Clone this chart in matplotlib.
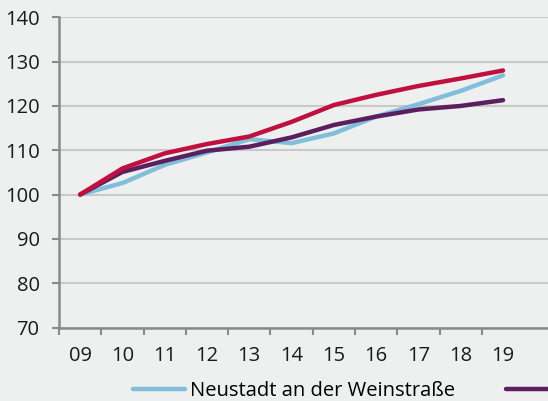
import numpy as np
import matplotlib.pyplot as plt

plt.rcParams['font.family'] = ['Open Sans', 'DejaVu Sans']

jahre = ['09', '10', '11', '12', '13', '14', '15', '16', '17', '18', '19']
neustadt = [100, 102.6, 106.7, 109.5, 112.5, 111.6, 113.8, 117.6, 120.4, 123.4, 126.9]
lila = [100, 105.1, 107.6, 109.9, 110.8, 112.9, 115.7, 117.6, 119.2, 120.0, 121.3]
rot = [100, 105.9, 109.3, 111.4, 113.1, 116.4, 120.2, 122.5, 124.5, 126.2, 128.0]
name_neustadt = 'Neustadt an der Weinstraße'

bg = '#eef0ef'
fs = 14.5
fig = plt.figure(figsize=(5.48, 4.01), dpi=100, facecolor=bg)
ax = fig.add_axes([59/548, 73.5/401, (548-59)/548, (327.5-17.3)/401])
ax.set_facecolor(bg)

x = np.arange(len(jahre))
h1, = ax.plot(x, neustadt, color='#80bedb', lw=3.2, solid_capstyle='round', zorder=3)
h2, = ax.plot(x, lila, color='#5b1f60', lw=3.2, solid_capstyle='round', zorder=4)
ax.plot(x, rot, color='#c0103f', lw=3.2, solid_capstyle='round', zorder=5)

ax.set_ylim(70, 140)
ax.set_yticks(range(70, 141, 10))
ax.set_xlim(-0.5, (548-80)/42.3)
ax.set_xticks(x)
ax.set_xticklabels(jahre)
ax.set_xticks(np.arange(-0.5, 10, 1), minor=True)
ax.tick_params(axis='x', which='major', length=0, pad=13, labelsize=fs, colors='#1a1a1a')
ax.tick_params(axis='x', which='minor', length=5, width=1.5, color='#8a8a8a')
ax.tick_params(axis='y', length=5, width=1.5, color='#8a8a8a', pad=9, labelsize=fs, labelcolor='#1a1a1a')

ax.grid(axis='y', color='#c9c9c9', lw=1.5)
ax.set_axisbelow(True)
for s in ['top', 'right']:
    ax.spines[s].set_visible(False)
for s in ['left', 'bottom']:
    ax.spines[s].set_color('#8a8a8a')
    ax.spines[s].set_linewidth(1.8)

# Legende: im Original rechts abgeschnitten, nur der erste Eintrag ist lesbar
fig.legend([h1, h2], [name_neustadt, ''], loc='center left', bbox_to_anchor=(133/548, 1 - 391/401),
           ncol=2, frameon=False, fontsize=fs, handlelength=2.58, handletextpad=0.25,
           columnspacing=2.55, borderpad=0, borderaxespad=0)

fig.savefig('out.png', dpi=100, facecolor=bg)
